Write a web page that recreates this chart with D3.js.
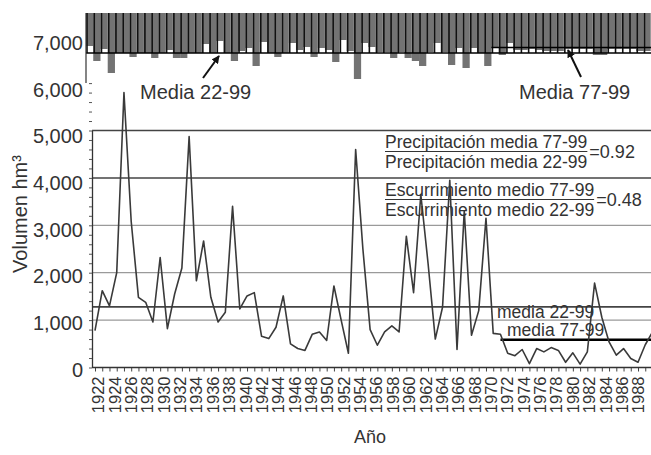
<!DOCTYPE html>
<html><head><meta charset="utf-8">
<script src="https://cdn.jsdelivr.net/npm/d3@7/dist/d3.min.js"></script>
<style>
body{margin:0;background:#fff;}
svg{display:block;font-family:"Liberation Sans",Arial,sans-serif;}
</style>
</head><body>
<svg id="chart" width="651" height="455"></svg>
<script>
// ---------- DATA ----------
const years = d3.range(1922, 2000); // 1922..1999 categories
const runoff = [780,1620,1300,2000,5800,3080,1480,1375,960,2320,
  820,1550,2100,4870,1830,2670,1480,960,1165,3400,
  1235,1510,1580,660,610,850,1510,500,400,360,
  700,750,570,1720,1000,300,4600,2500,800,470,
  750,880,750,2770,1580,3650,2200,600,1270,3950,
  380,3300,680,1200,3150,720,700,300,250,380,
  80,400,330,420,360,110,310,70,330,1780,
  1060,540,260,400,190,110,480,750];
const precip = [660,960,720,1200,800,800,880,800,800,900,
  800,740,900,900,800,800,620,800,560,800,
  960,760,700,1060,580,800,880,800,600,740,
  680,880,700,740,980,540,760,1320,600,680,
  780,780,900,780,900,960,1060,780,600,780,
  1040,700,1100,700,800,1060,700,840,600,740,
  740,720,740,760,760,760,720,720,720,720,
  840,840,720,720,720,720,760,760];
const runoffMeanValues = [1280, 586];      // media 22-99, media 77-99
const runoffMeanStart  = [1922, 1978];
const precipMeanValues = [800, 690];
const precipMeanStart  = [1922, 1978];
const gridValues = [1000, 2000, 3000, 4000, 5000];
const yTickValues = [0,1000,2000,3000,4000,5000,6000,7000];
const yTickLabels = ["0","1,000","2,000","3,000","4,000","5,000","6,000","7,000"];
const xLabelYears = d3.range(1922, 1989, 2);

// ---------- SCALES ----------
const svg = d3.select("#chart");
const x  = d3.scaleLinear().domain([1922, 1999]).range([95, 652.5]);
const y  = d3.scaleLinear().domain([0, 5000]).range([367.5, 130.5]);
const yl = d3.scaleLinear().domain([0, 7000]).range([370, 43]);     // label positions
const xl = d3.scaleLinear().domain([1922, 1988]).range([98, 638]);  // year labels
const xb = d3.scaleBand().domain(years).range([86, 86 + 78 * 7.24]);
const p  = d3.scaleLinear().domain([0, 1000]).range([13, 63]);

const ink = "#333";

// ---------- TOP PANEL (precipitation) ----------
const topG = svg.append("g");
topG.selectAll("rect.bar").data(precip).join("rect")
  .attr("class","bar")
  .attr("x", (d,i)=>xb(years[i]))
  .attr("y", p(0))
  .attr("width", xb.bandwidth())
  .attr("height", d=>p(d)-p(0))
  .attr("fill", "#737373");
topG.selectAll("line.sep").data(precip).join("line")
  .attr("class","sep")
  .attr("x1",(d,i)=>xb(years[i])+1).attr("x2",(d,i)=>xb(years[i])+1)
  .attr("y1", p(0)).attr("y2", p(precipMeanValues[0]))
  .attr("stroke","#111").attr("stroke-width",1.6);
topG.selectAll("line.pm").data(precipMeanValues).join("line")
  .attr("class","pm")
  .attr("x1",(d,i)=>xb(precipMeanStart[i])).attr("x2",651)
  .attr("y1",d=>p(d)).attr("y2",d=>p(d))
  .attr("stroke","#000").attr("stroke-width",1.6);
topG.append("line").attr("x1",86).attr("x2",86).attr("y1",p(0)).attr("y2",83)
  .attr("stroke","#333").attr("stroke-width",1.2);

// ---------- GRID ----------
svg.append("g").selectAll("line").data(gridValues).join("line")
  .attr("x1",92).attr("x2",651)
  .attr("y1",d=>y(d)).attr("y2",d=>y(d))
  .attr("stroke",d=>d>=4000?"#444":"#9a9a9a")
  .attr("stroke-width",d=>d>=4000?1.5:1.2);

// mean runoff lines
svg.append("g").selectAll("line").data(runoffMeanValues).join("line")
  .attr("x1",(d,i)=>i===0?92:x(runoffMeanStart[i])).attr("x2",651)
  .attr("y1",d=>y(d)).attr("y2",d=>y(d))
  .attr("stroke",(d,i)=>i===0?"#444":"#000")
  .attr("stroke-width",(d,i)=>i===0?1.6:2.6);

// ---------- AXES ----------
const yAx = svg.append("g").attr("transform","translate(92,0)")
  .call(d3.axisLeft(y).tickValues(d3.range(0,6001,200)).tickSize(3).tickSizeOuter(0).tickFormat(""));
yAx.select(".domain").attr("stroke","#333").attr("stroke-width",1.3);
yAx.selectAll(".tick line").attr("stroke","#555");

const yLab = svg.append("g").attr("transform","translate(86,0)")
  .call(d3.axisLeft(yl).tickValues(yTickValues).tickSize(0)
    .tickFormat((d,i)=>yTickLabels[i]));
yLab.select(".domain").remove();
yLab.selectAll("text").attr("font-size",20).attr("fill",ink)
  .attr("font-family",'"Liberation Sans",Arial,sans-serif');

const xAx = svg.append("g").attr("transform",`translate(0,${y(0)})`)
  .call(d3.axisBottom(x).tickValues(years).tickSize(4).tickSizeOuter(0).tickFormat(""));
xAx.select(".domain").remove();
xAx.selectAll(".tick line").attr("stroke","#444");
svg.append("line").attr("x1",92).attr("x2",651).attr("y1",y(0)).attr("y2",y(0))
  .attr("stroke","#333").attr("stroke-width",1.3);

const xLab = svg.append("g").attr("transform",`translate(0,${y(0)})`)
  .call(d3.axisBottom(xl).tickValues(xLabelYears).tickSize(0).tickFormat(d3.format("d")));
xLab.select(".domain").remove();
xLab.selectAll("text")
  .attr("transform","rotate(-90)")
  .attr("text-anchor","end")
  .attr("x",-9).attr("y",0).attr("dy","0.35em")
  .attr("font-size",16.5).attr("fill",ink)
  .attr("font-family",'"Liberation Sans",Arial,sans-serif');

// ---------- RUNOFF LINE ----------
svg.append("path")
  .datum(runoff)
  .attr("fill","none")
  .attr("stroke","#3a3a3a")
  .attr("stroke-width",1.6)
  .attr("stroke-linejoin","round")
  .attr("d", d3.line().x((d,i)=>x(years[i])).y(d=>y(d)));

// ---------- TITLES ----------
svg.append("text").attr("transform","translate(27,214) rotate(-90)")
  .attr("text-anchor","middle").attr("font-size",20).attr("fill",ink)
  .text("Volumen hm³");
svg.append("text").attr("x",370).attr("y",443).attr("text-anchor","middle")
  .attr("font-size",18).attr("fill",ink).text("Año");

// ---------- ANNOTATIONS ----------
const ann = svg.append("g").attr("fill",ink);
ann.append("text").attr("x",140).attr("y",99).attr("font-size",20).text("Media 22-99");
ann.append("text").attr("x",519).attr("y",99).attr("font-size",20).text("Media 77-99");

svg.append("defs").append("marker").attr("id","ah")
  .attr("viewBox","0 0 10 10").attr("refX",9).attr("refY",5)
  .attr("markerWidth",4).attr("markerHeight",4).attr("orient","auto")
  .append("path").attr("d","M0,0L10,5L0,10Z").attr("fill","#111");
svg.append("line").attr("x1",203).attr("y1",78).attr("x2",219).attr("y2",56)
  .attr("stroke","#111").attr("stroke-width",2).attr("marker-end","url(#ah)");
svg.append("line").attr("x1",581).attr("y1",77).attr("x2",568).attr("y2",50)
  .attr("stroke","#111").attr("stroke-width",2).attr("marker-end","url(#ah)");

function fraction(xp, yBase, num, den, res){
  const t1 = ann.append("text").attr("x",xp).attr("y",yBase).attr("font-size",17.5).text(num);
  ann.append("text").attr("x",xp).attr("y",yBase+20).attr("font-size",17.5).text(den);
  const w = t1.node().getComputedTextLength();
  svg.append("line").attr("x1",xp).attr("x2",xp+w).attr("y1",yBase+3.5).attr("y2",yBase+3.5)
    .attr("stroke",ink).attr("stroke-width",1.2);
  ann.append("text").attr("x",xp+w+2).attr("y",yBase+10).attr("font-size",18).text(res);
}
fraction(385,148,"Precipitación media 77-99","Precipitación media 22-99","=0.92");
fraction(385,196,"Escurrimiento medio 77-99","Escurrimiento medio 22-99","=0.48");

ann.append("text").attr("x",497).attr("y",318).attr("font-size",17.5).text("media 22-99");
ann.append("text").attr("x",507).attr("y",336).attr("font-size",17.5).text("media 77-99");
</script>
</body></html>
